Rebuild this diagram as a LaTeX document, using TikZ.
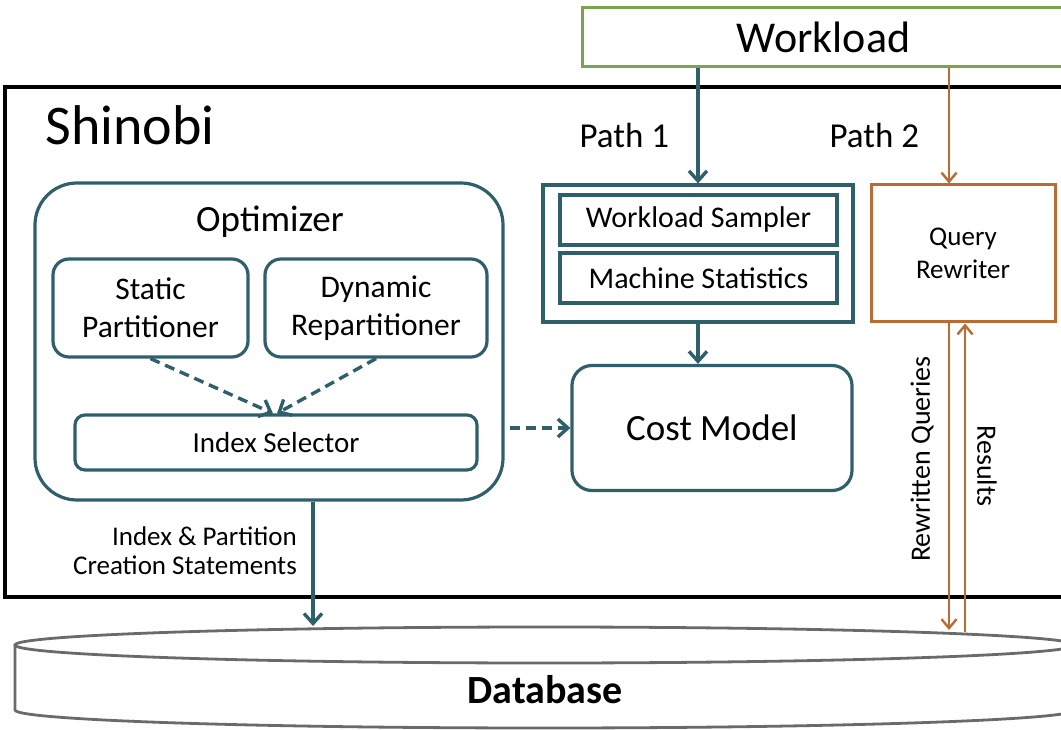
\documentclass[tikz,border=0pt]{standalone}
\usepackage{fontspec}
\setmainfont{Carlito}
\usetikzlibrary{positioning,arrows.meta}

\definecolor{shteal}{HTML}{2F5F6B}
\definecolor{shgreen}{HTML}{7AA54E}
\definecolor{shorange}{HTML}{B86B33}
\definecolor{shgray}{HTML}{6A6A6A}

\newcommand{\fsz}[1]{\fontsize{#1}{1.2\dimexpr#1pt\relax}\selectfont}

\begin{document}
\begin{tikzpicture}[x=1pt, y=-1pt,
  tealbox/.style={draw=shteal, line width=3.2pt, inner sep=0pt},
  roundbox/.style={tealbox, rounded corners=16pt},
  tealarrow/.style={draw=shteal, line width=3.4pt, -{Straight Barb[length=10pt,width=18pt]}},
  dasharrow/.style={tealarrow, dash pattern=on 10pt off 6pt},
  orangearrow/.style={draw=shorange, line width=2.4pt, -{Straight Barb[length=9pt,width=15pt]}}]

\useasboundingbox (0,0) rectangle (1061,730);
\clip (0,0) rectangle (1061,730);

% Workload and the Shinobi frame
\node[draw=shgreen, line width=3pt, minimum width=493pt, minimum height=59pt, font=\fsz{44}] (workload) at (828.5,37.5) {\hspace*{-10pt}Workload};
\draw[line width=3.6pt] (5,87) rectangle (1080,597);
\node[anchor=base west, font=\fsz{56}] (shinobi) at (42,145) {Shinobi};
\node[anchor=base west, font=\fsz{35}] (path1) at (576,148) {Path 1};
\node[anchor=base west, font=\fsz{35}] (path2) at (826,148) {Path 2};

% Path 1: sampler and cost model
\node[tealbox, minimum width=310pt, minimum height=137pt] (sampler) at (698,253.5) {};
\node[tealbox, minimum width=277pt, minimum height=50pt, font=\fsz{30}] (wsampler) at (698.5,220) {Workload Sampler};
\node[tealbox, minimum width=277pt, minimum height=50pt, font=\fsz{30}] (mstats) at (698.5,278) {Machine Statistics};
\node[roundbox, rounded corners=20pt, minimum width=280pt, minimum height=125pt, font=\fsz{37}] (cost) at (712,428) {Cost Model};

% Path 2: query rewriter
\node[draw=shorange, line width=3pt, minimum width=184pt, minimum height=137pt, align=center, font=\fsz{27}] (rewriter) at (963,253.5) {Query\\Rewriter};

% Optimizer
\node[roundbox, rounded corners=42pt, minimum width=468pt, minimum height=317pt] (optimizer) at (269,341.5) {};
\node[font=\fsz{37}] (opttitle) at (270,222) {Optimizer};
\node[roundbox, minimum width=195pt, minimum height=98pt, align=center, font=\fsz{31.5}] (static) at (150.5,308) {Static\\Partitioner};
\node[roundbox, minimum width=222pt, minimum height=98pt, align=center, font=\fsz{31.5}] (dynamic) at (376,308) {Dynamic\\Repartitioner};
\node[roundbox, rounded corners=10pt, minimum width=402pt, minimum height=55pt, font=\fsz{29}] (selector) at (276,442.5) {Index Selector};

% Database
\draw[shgray, line width=2.8pt, fill=white] (15,645) -- (15,710) arc[start angle=180, end angle=0, x radius=530, y radius=18] -- (1075,645);
\draw[shgray, line width=2.8pt] (545,645) ellipse[x radius=530, y radius=18];
\node[font=\fsz{40}\bfseries] (database) at (545,690) {Database};
\coordinate (dbtop) at (313,626);
\coordinate (dbright) at (949,630);
\coordinate (dbresult) at (965,632);

% Connectors
\draw[tealarrow] (sampler.north |- workload.south) -- (sampler.north);
\draw[orangearrow] ([xshift=-14pt]rewriter.north |- workload.south) -- ([xshift=-14pt]rewriter.north);
\draw[tealarrow] (sampler.south) -- (sampler.south |- cost.north);
\draw[dasharrow] (static.south) -- ([xshift=-3pt]selector.north);
\draw[dasharrow] (dynamic.south) -- ([xshift=1pt]selector.north);
\draw[dasharrow, shorten <=5pt] (optimizer.east |- cost.west) -- (cost.west);
\draw[tealarrow] (optimizer.south -| dbtop) -- (dbtop);
\draw[orangearrow] (rewriter.south -| dbright) -- (dbright);
\draw[orangearrow] (dbresult) -- (rewriter.south -| dbresult);

% Labels on connectors
\node[anchor=east, align=right, font=\fsz{27}, inner sep=0pt] (createlbl) at (297,551) {Index \& Partition\\[-3pt]Creation Statements};
\node[rotate=90, font=\fsz{28}, inner sep=0pt] (rwlbl) at (922,459) {Rewritten Queries};
\node[rotate=-90, font=\fsz{28}, inner sep=0pt] (reslbl) at (987,466) {Results};
\end{tikzpicture}
\end{document}
